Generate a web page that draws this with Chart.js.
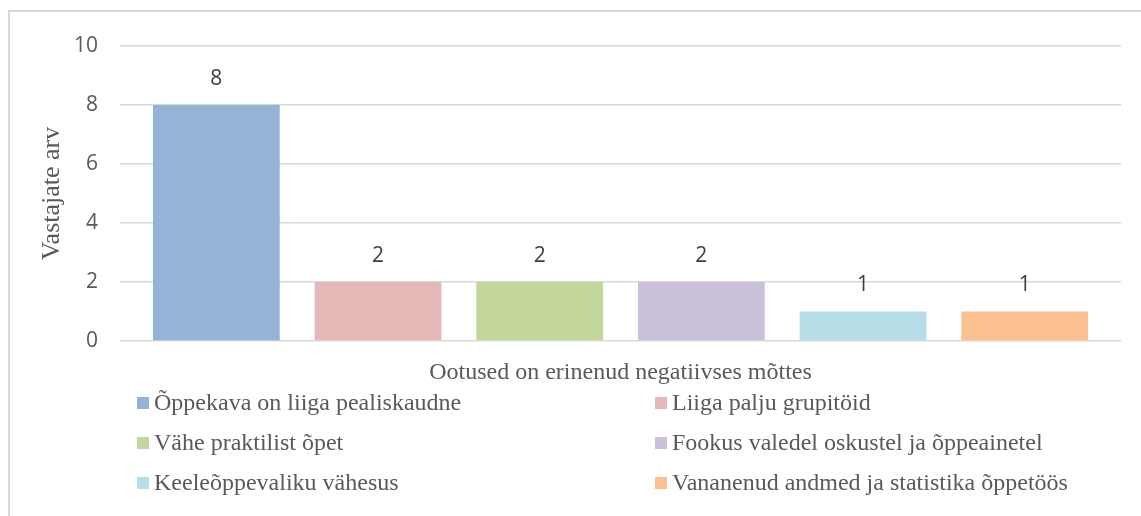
<!DOCTYPE html>
<html>
  <head>
    <meta charset="UTF-8" />
    <title>Ootused</title>
    <script src="https://cdn.jsdelivr.net/npm/chart.js"></script>
    <style>
      body { margin: 0; background: #fff; }
      #wrap { position: relative; width: 1141px; height: 516px; }
      #frame {
        position: absolute; left: 8px; top: 10px; right: -4px; bottom: -4px;
        border-left: 2px solid #d9d9d9; border-top: 2px solid #d9d9d9;
      }
      #myChart { position: absolute; left: 0; top: 0; }
    </style>
  </head>
  <body>
    <div id="wrap">
      <div id="frame"></div>
      <canvas id="myChart"></canvas>
    </div>
    <script>
      const kategooriad = ['Ootused on erinenud negatiivses mõttes'];
      const vastused = [
        'Õppekava on liiga pealiskaudne',
        'Liiga palju grupitöid',
        'Vähe praktilist õpet',
        'Fookus valedel oskustel ja õppeainetel',
        'Keeleõppevaliku vähesus',
        'Vananenud andmed ja statistika õppetöös'
      ];
      const vastajad = [8, 2, 2, 2, 1, 1];
      const varvid = ['#95b3d7', '#e6b9b8', '#c3d69b', '#ccc1da', '#b7dde8', '#fac090'];
      const yTicks = [0, 2, 4, 6, 8, 10];

      const serif = '"Liberation Serif", "Times New Roman", serif';
      const sans = '"Open Sans", "Noto Sans", sans-serif';

      // väärtused tulpade kohal
      const vaartused = {
        id: 'vaartused',
        afterDatasetsDraw(chart) {
          const ctx = chart.ctx;
          ctx.save();
          ctx.font = '21px ' + sans;
          ctx.fillStyle = '#404040';
          ctx.textAlign = 'center';
          ctx.textBaseline = 'middle';
          chart.data.datasets.forEach((ds, i) => {
            chart.getDatasetMeta(i).data.forEach((bar, j) => {
              ctx.fillText(ds.data[j], bar.x, bar.y - 26);
            });
          });
          ctx.restore();
        }
      };

      // legend kahes veerus
      const legend2 = {
        id: 'legend2',
        afterDraw(chart) {
          const ctx = chart.ctx;
          ctx.save();
          ctx.font = '24px ' + serif;
          ctx.textBaseline = 'middle';
          const cols = [137, 655];
          chart.data.datasets.forEach((ds, i) => {
            const x = cols[i % 2];
            const y = 403 + Math.floor(i / 2) * 40;
            ctx.fillStyle = ds.backgroundColor;
            ctx.fillRect(x, y - 6, 12, 12);
            ctx.fillStyle = '#595959';
            ctx.fillText(ds.label, x + 17, y + 1);
          });
          ctx.restore();
        }
      };

      const ctx = document.getElementById('myChart').getContext('2d');
      new Chart(ctx, {
        type: 'bar',
        data: {
          labels: kategooriad,
          datasets: vastused.map((nimi, i) => ({
            label: nimi,
            data: [vastajad[i]],
            backgroundColor: varvid[i],
            categoryPercentage: 0.969,
            barPercentage: 0.784
          }))
        },
        options: {
          responsive: true,
          maintainAspectRatio: false,
          animation: false,
          layout: { padding: { top: 46, right: 20, left: 0, bottom: 0 } },
          plugins: {
            legend: { display: false },
            tooltip: { enabled: false }
          },
          scales: {
            x: {
              grid: { display: false },
              border: { display: false },
              ticks: {
                color: '#595959',
                font: { family: serif, size: 24 },
                padding: 9
              },
              afterFit: s => { s.height = 175; }
            },
            y: {
              min: 0,
              max: 10,
              afterBuildTicks: s => { s.ticks = yTicks.map(v => ({ value: v })); },
              grid: { color: '#d9d9d9', lineWidth: 1.5, drawTicks: false },
              border: { display: false },
              ticks: {
                color: '#595959',
                font: { family: sans, size: 21 },
                padding: 22
              },
              title: {
                display: true,
                text: 'Vastajate arv',
                color: '#595959',
                font: { family: serif, size: 26 },
                padding: { top: 37, bottom: 0 }
              },
              afterFit: s => { s.width = 120; }
            }
          }
        },
        plugins: [vaartused, legend2]
      });
    </script>
  </body>
</html>
